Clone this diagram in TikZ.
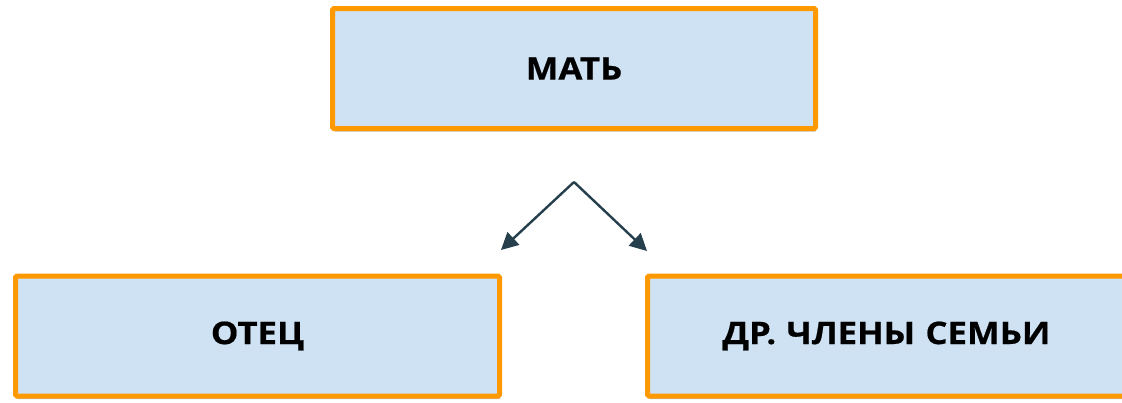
\documentclass[tikz,border=0pt]{standalone}
\usepackage{fontspec}
\setmainfont{Open Sans}[BoldFeatures={FakeStretch=1.12,FakeBold=0.6}]
\usetikzlibrary{shadows,arrows.meta}
\definecolor{boxfill}{HTML}{CFE2F3}
\definecolor{boxline}{HTML}{FF9900}
\definecolor{arrowcol}{HTML}{263F4D}
\tikzset{
  famBox/.style={draw=boxline, fill=boxfill, line width=5pt, rounded corners=1.5pt,
    minimum height=120pt, inner sep=0pt,
    font=\fontsize{31}{31}\selectfont\bfseries,
    drop shadow={shadow xshift=1pt, shadow yshift=-3pt, opacity=0.25, fill=black}},
  famArrow/.style={draw=arrowcol, line width=2.4pt, -{Triangle[length=17pt,width=17pt]}}
}
\begin{document}
\begin{tikzpicture}[x=1pt,y=-1pt]
\useasboundingbox (0,0) rectangle (1122,402);
\clip (0,0) rectangle (1122,402);
\fill[white] (0,0) rectangle (1122,402);
\node[famBox, minimum width=483pt] (mat) at (574,68.5) {МАТЬ};
\node[famBox, minimum width=484pt] (otec) at (257.5,336) {ОТЕЦ};
\node[famBox, minimum width=488pt, text width=476pt, align=left] (dr) at (891.5,336) {\hspace{69pt}ДР. ЧЛЕНЫ СЕМЬИ};
\coordinate (apex) at (574,182);
\coordinate (endL) at (501,250);
\coordinate (endR) at (647,251);
\draw[famArrow] (apex) -- (endL);
\draw[famArrow] (apex) -- (endR);
\end{tikzpicture}
\end{document}
